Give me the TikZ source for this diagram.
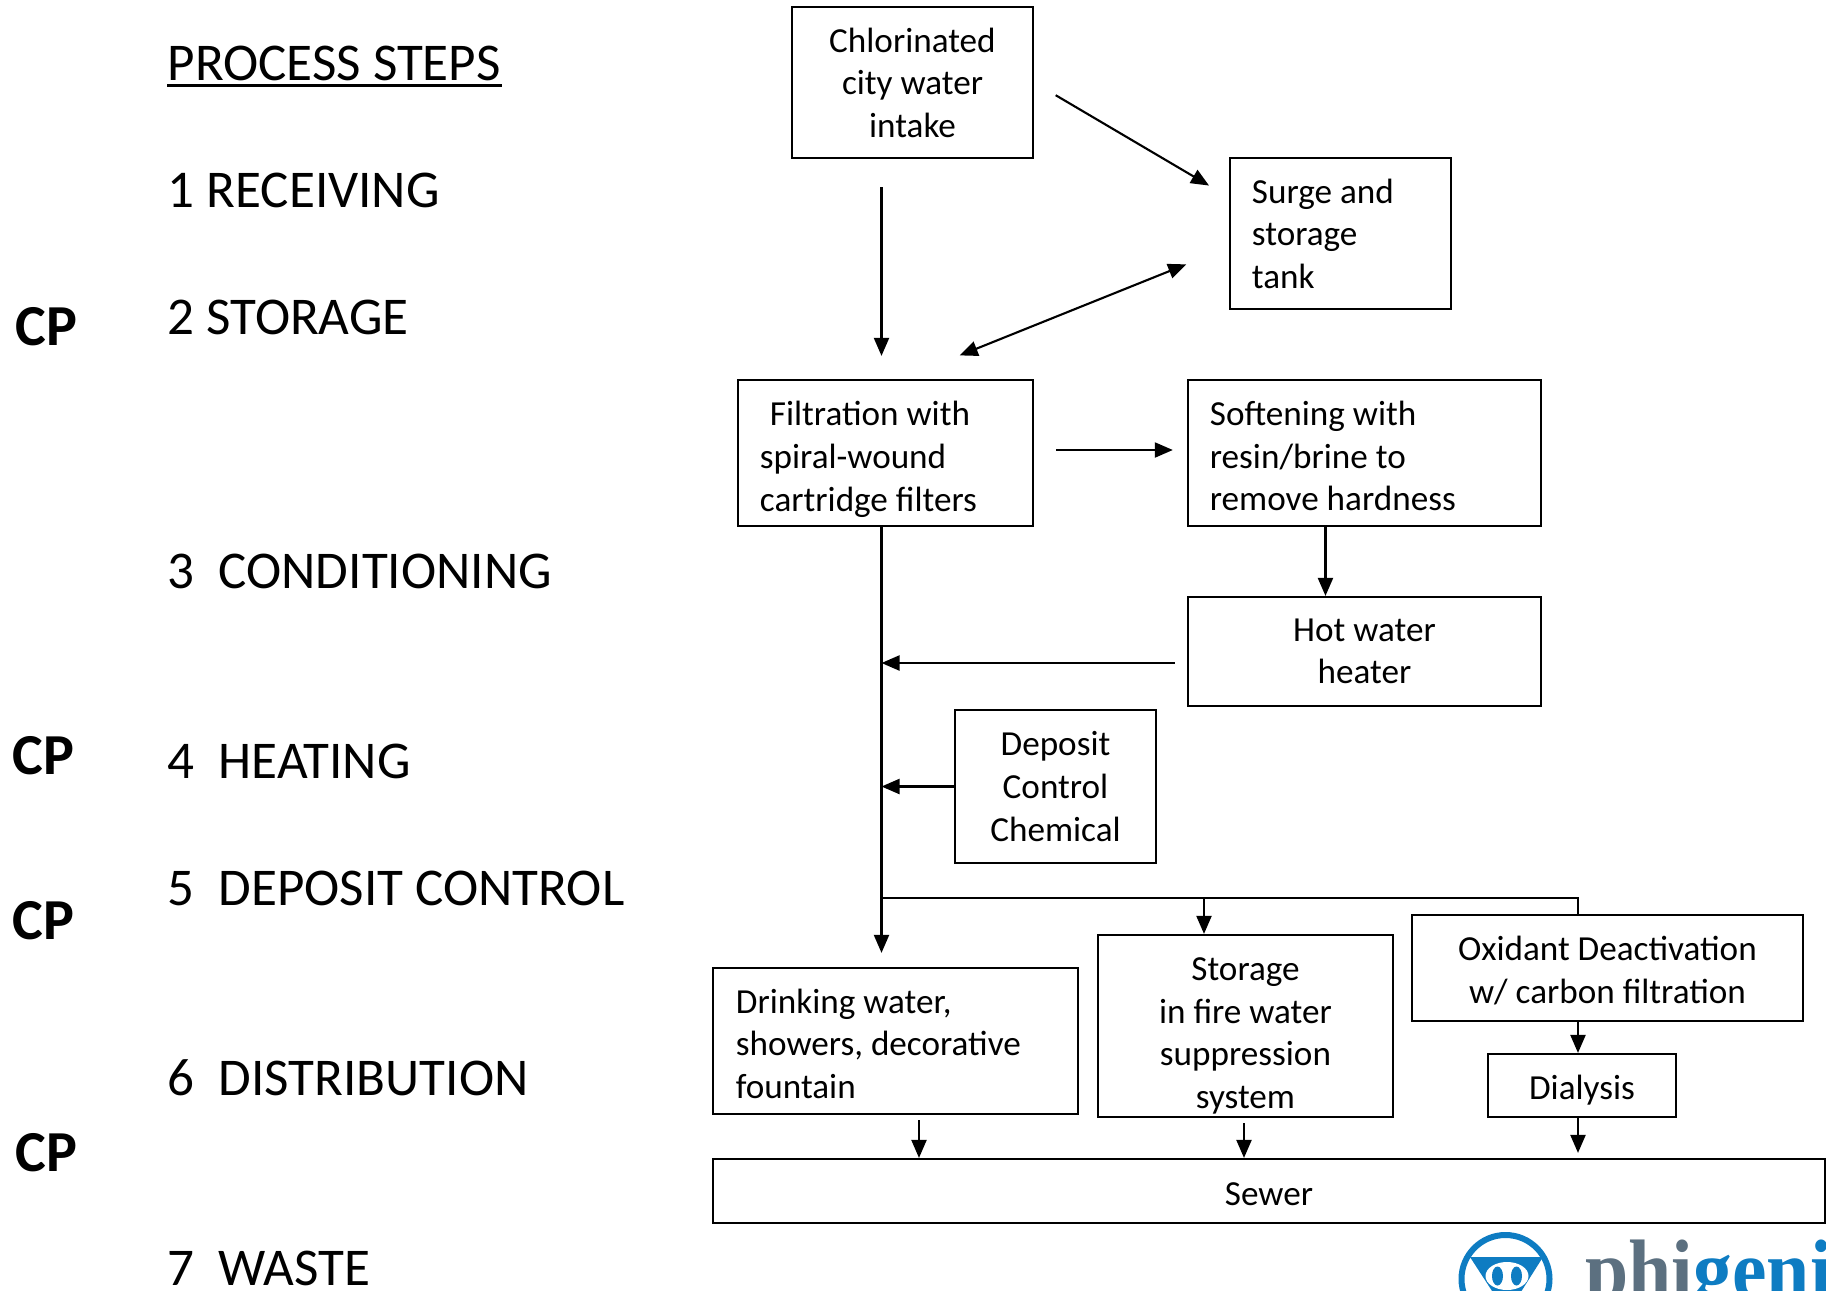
\documentclass[tikz,border=0pt]{standalone}
\usepackage{fontspec}
\setmainfont{Carlito}
\newfontfamily\logofont{Liberation Serif}
\usetikzlibrary{arrows.meta}
\definecolor{logoblue}{RGB}{14,124,194}
\definecolor{logoslate}{RGB}{92,112,128}
\newcommand{\dropline}[1]{\rule{0pt}{#1}}
\tikzset{
  box/.style = {draw, line width = 0.6pt, inner sep = 0pt, align = center,
    font = \fontsize{10}{12.1}\selectfont},
  leftbox/.style = {box, align = flush left},
  stage/.style = {anchor = base west, inner sep = 0pt, font = \fontsize{15.1}{20}\selectfont},
  cplabel/.style = {anchor = base west, inner sep = 0pt, font = \fontsize{16.5}{20}\selectfont\bfseries},
  flow/.style = {line width = 0.6pt, -{Triangle[length = 0.18cm, width = 0.15cm]}},
  twoway/.style = {line width = 0.6pt, {Triangle[length = 0.18cm, width = 0.15cm]}-{Triangle[length = 0.18cm, width = 0.15cm]}},
  wire/.style = {line width = 0.6pt}
}
\begin{document}
\begin{tikzpicture}[x = 0.01cm, y = -0.01cm]
    \useasboundingbox (0, 0) rectangle (1826, 1290);
    \clip (0, 0) rectangle (1826, 1290);

    % left column
    \node [stage] (title) at (167, 80) {PROCESS STEPS};
    \draw [line width = 0.8pt] ([yshift = -0.055cm]title.base west) -- ([yshift = -0.055cm]title.base east);
    \node [stage] (receiving) at (167, 207) {1 RECEIVING};
    \node [stage] (storing) at (167, 334) {2 STORAGE};
    \node [stage] (conditioning) at (167, 588) {3\ \ CONDITIONING};
    \node [stage] (heating) at (167, 778) {4\ \ HEATING};
    \node [stage] (deposit label) at (167, 905) {5\ \ DEPOSIT CONTROL};
    \node [stage] (distribution) at (167, 1095) {6\ \ DISTRIBUTION};
    \node [stage] (waste) at (167, 1285) {7\ \ WASTE};

    \node [cplabel] (cp1) at (15, 345) {CP};
    \node [cplabel] (cp2) at (12, 774) {CP};
    \node [cplabel] (cp3) at (12, 939) {CP};
    \node [cplabel] (cp4) at (15, 1171) {CP};

    % process boxes
    \node [box, minimum width = 2.41cm, minimum height = 1.51cm] (intake) at (912.5, 82.5)
      {Chlorinated\\city water\\intake};
    \node [leftbox, text width = 1.77cm, inner xsep = 0.22cm, minimum height = 1.51cm] (surge) at (1340.5, 233.5)
      {Surge and\\storage\\tank};
    \node [leftbox, text width = 2.51cm, inner xsep = 0.22cm, minimum height = 1.46cm] (filter) at (885.5, 453)
      {\dropline{0.37cm}\hspace{0.1cm}Filtration with\\spiral-wound\\cartridge filters};
    \node [leftbox, text width = 3.09cm, inner xsep = 0.22cm, minimum height = 1.46cm] (soft) at (1364.5, 453)
      {\dropline{0.31cm}Softening with\\resin/brine to\\remove hardness};
    \node [box, minimum width = 3.53cm, minimum height = 1.09cm] (hot) at (1364.5, 651.5)
      {Hot water\\heater};
    \node [box, minimum width = 2.01cm, minimum height = 1.53cm] (chem) at (1055.5, 786.5)
      {Deposit\\Control\\Chemical};
    \node [leftbox, text width = 3.19cm, inner xsep = 0.23cm, minimum height = 1.46cm] (drink) at (895.5, 1041)
      {\dropline{0.3cm}Drinking water,\\showers, decorative\\fountain};
    \node [box, minimum width = 2.95cm, minimum height = 1.82cm] (fire) at (1245.5, 1026)
      {\dropline{0.43cm}Storage\\in fire water\\suppression\\system};
    \node [box, minimum width = 3.91cm, minimum height = 1.06cm] (oxidant) at (1607.5, 968)
      {\dropline{0.3cm}Oxidant Deactivation\\w/ carbon filtration};
    \node [box, minimum width = 1.88cm, minimum height = 0.63cm] (dialysis) at (1582, 1085.5) {\dropline{0.34cm}Dialysis};
    \node [box, minimum width = 11.12cm, minimum height = 0.64cm] (sewer) at (1269, 1191) {\dropline{0.3cm}Sewer};

    % connectors
    \coordinate (trunk) at (881.5, 526);
    \coordinate (branch) at (881.5, 898);
    \coordinate (hot join) at (881.5, 663);
    \coordinate (fire drop) at (1204, 898);
    \coordinate (far drop) at (1578, 898);

    \draw [flow, shorten <= 0.25cm, shorten >= 0.23cm] (intake.east) -- (surge.162);
    \draw [flow, shorten <= 0.28cm, shorten >= 0.23cm] (intake.south -| trunk) -- (filter.north -| trunk);
    \draw [twoway, shorten <= 0.63cm, shorten >= 0.46cm] (filter.78) -- (surge.187);
    \draw [flow, shorten <= 0.22cm, shorten >= 0.14cm] ([yshift = 0.03cm]filter.east) -- ([yshift = 0.03cm]soft.west);
    \draw [flow] ([xshift = -0.39cm]soft.south) -- ([xshift = -0.39cm]hot.north);
    \draw [flow, shorten <= 0.12cm] (hot.west |- hot join) -- (hot join);
    \draw [flow] (chem.west) -- (chem.west -| trunk);
    \draw [flow, shorten >= 0.14cm] (trunk) -- (drink.north -| trunk);
    \draw [wire] (branch) -- (far drop) -- (oxidant.north -| far drop);
    \draw [flow] (fire drop) -- (fire.north -| fire drop);
    \draw [flow] (oxidant.south -| far drop) -- (dialysis.north -| far drop);
    \draw [flow, shorten <= 0.05cm] (drink.south -| 919, 0) -- (sewer.north -| 919, 0);
    \draw [flow, shorten <= 0.05cm] (fire.south -| 1244, 0) -- (sewer.north -| 1244, 0);
    \draw [flow, shorten >= 0.05cm] (dialysis.south -| far drop) -- (sewer.north -| far drop);

    % logo
    \draw [logoblue, line width = 0.06cm] (1505.5, 1279) circle (44);
    \fill [logoblue] (1470, 1257) -- (1543, 1257) -- (1507, 1314) -- cycle;
    \fill [white] (1507, 1276) ellipse (21.5 and 14);
    \fill [logoblue] (1497.5, 1276) ellipse (5.5 and 9.5);
    \fill [logoblue] (1516.5, 1276) ellipse (5.5 and 9.5);
    \node [anchor = base west, inner sep = 0pt, xscale = 0.92, font = \fontsize{24}{28}\selectfont\logofont\bfseries] (logo)
      at (1585, 1298) {\textcolor{logoslate}{phi}\textcolor{logoblue}{geni}};
  \end{tikzpicture}
\end{document}
